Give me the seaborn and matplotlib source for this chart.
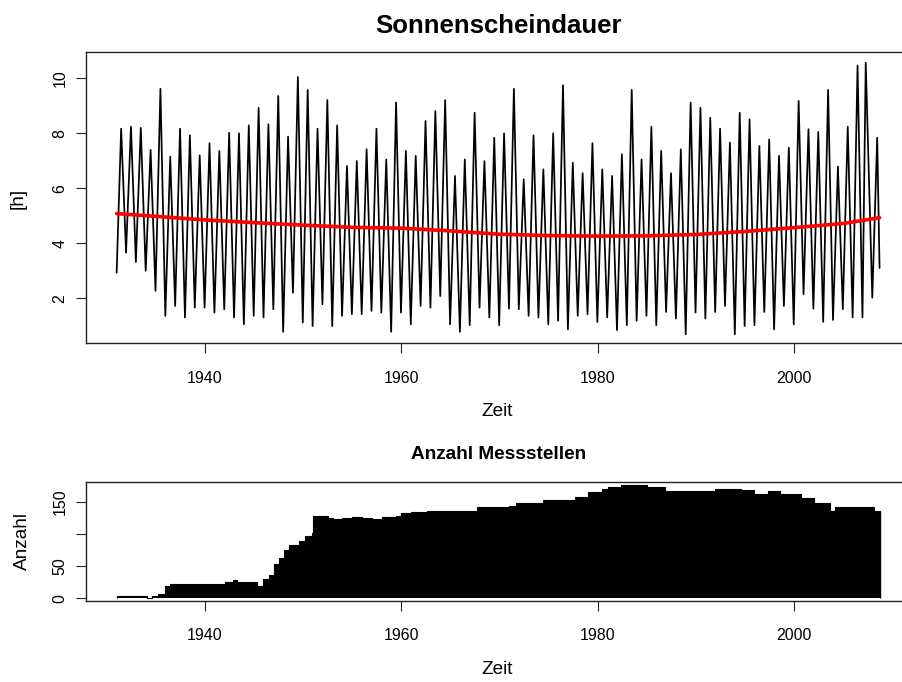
import numpy as np
import pandas as pd
import matplotlib
matplotlib.use("Agg")
import matplotlib.pyplot as plt
import seaborn as sns

# ---------------- data ----------------
years = list(range(1931, 2009))

# monthly sunshine: summer maximum of each year [h]
summer_peak = [
    8.17, 8.24, 8.20, 7.40, 9.62, 7.15, 8.17, 7.93, 7.20, 7.64,
    7.36, 8.02, 8.00, 8.29, 8.93, 8.33, 9.36, 7.88, 10.05, 9.58,
    8.17, 9.21, 8.29, 6.81, 6.99, 7.42, 8.17, 7.05, 9.12, 7.36,
    7.18, 8.45, 8.81, 9.21, 6.45, 7.05, 8.75, 6.99, 7.84, 8.00,
    9.62, 6.33, 7.93, 6.69, 8.00, 9.75, 6.93, 6.55, 7.64, 6.69,
    6.45, 7.24, 9.58, 7.05, 8.24, 7.36, 6.55, 7.42, 9.12, 8.93,
    8.57, 8.17, 7.66, 8.75, 8.51, 7.54, 7.78, 7.18, 7.48, 9.18,
    8.15, 8.05, 9.58, 6.79, 8.24, 10.47, 10.57, 7.84,
]
# month of the summer maximum
peak_month = [4 if y == 2007 else 6 for y in years]

# December minimum of each year 1931..2007 [h]
winter_trough = [
    3.66, 3.32, 3.00, 2.27, 1.36, 1.72, 1.30, 1.66, 1.66, 1.48,
    1.60, 1.30, 1.05, 1.36, 1.30, 1.60, 0.78, 2.20, 1.12, 0.99,
    1.78, 0.99, 1.36, 1.42, 1.42, 1.54, 1.48, 0.78, 1.48, 1.05,
    1.72, 1.66, 2.08, 1.05, 0.78, 1.02, 1.66, 1.30, 1.02, 1.62,
    1.60, 1.36, 1.30, 1.05, 1.18, 0.87, 1.36, 1.42, 1.14, 1.30,
    0.84, 1.02, 1.18, 1.36, 1.02, 1.50, 1.26, 0.69, 1.48, 1.26,
    1.50, 1.72, 0.69, 0.99, 1.02, 1.50, 0.87, 1.72, 1.05, 2.15,
    1.62, 1.14, 1.21, 1.60, 1.30, 1.30, 2.02,
]
first_value = 2.93   # January 1931
last_time = 2008.70
last_value = 3.10

# smooth trend (red)
trend_time = [1931.0, 1935, 1940, 1945, 1950, 1955, 1960, 1965, 1970,
              1975, 1980, 1985, 1990, 1995, 2000, 2005, 2008.7]
trend_value = [5.08, 4.98, 4.85, 4.75, 4.66, 4.58, 4.55, 4.45, 4.33,
               4.28, 4.26, 4.27, 4.32, 4.43, 4.57, 4.72, 4.93]

# number of stations (step changes)
station_time = [
    1931.0, 1934.05, 1934.6, 1935.25, 1935.9, 1936.4, 1942.0, 1942.9, 1943.3,
    1945.3, 1945.9, 1946.5, 1947.0, 1947.5, 1948.0, 1948.6, 1949.6, 1950.2,
    1950.9, 1951.0, 1951.7, 1952.5, 1953.0, 1954.0, 1955.0, 1956.0, 1957.0,
    1958.0, 1959.5, 1960.0, 1961.0, 1962.6, 1965.0, 1967.7, 1971.0, 1971.7,
    1974.4, 1977.7, 1979.0, 1980.4, 1981.0, 1982.4, 1985.0, 1986.8, 1990.5,
    1991.9, 1994.6, 1995.9, 1997.3, 1998.6, 2000.7, 2002.0, 2003.7, 2004.2,
    2008.1, 2008.75,
]
station_count = [
    4, 1, 4, 7, 19, 22, 25, 29, 26,
    19, 30, 36, 53, 62, 75, 82, 89, 97,
    101, 127, 128, 125, 123, 124, 126, 125, 123,
    126, 127, 132, 133, 136, 136, 141, 143, 148,
    153, 157, 165, 170, 173, 175, 172, 166, 167,
    170, 168, 162, 166, 162, 155, 148, 136, 142,
    135, 135,
]

top_yticks = [2, 4, 6, 8, 10]
bottom_yticks = [0, 50, 100, 150]
bottom_ylabels = ["0", "50", "", "150"]
x_ticks = [1940, 1960, 1980, 2000]

# ---------------- build series ----------------
t, v = [1931.0], [first_value]
for i, y in enumerate(years):
    t.append(y + (peak_month[i] - 0.5) / 12.0)
    v.append(summer_peak[i])
    if i < len(winter_trough):
        t.append(y + 11.5 / 12.0)
        v.append(winter_trough[i])
t.append(last_time)
v.append(last_value)
sun = pd.DataFrame({"Zeit": t, "h": v})
trend = pd.DataFrame({"Zeit": trend_time, "h": trend_value})
stations = pd.DataFrame({"Zeit": station_time, "Anzahl": station_count})

# ---------------- style ----------------
sns.set_style("white")
plt.rcParams["font.family"] = ["Liberation Sans", "DejaVu Sans"]
plt.rcParams["text.color"] = "black"
plt.rcParams["axes.labelcolor"] = "black"
plt.rcParams["axes.edgecolor"] = "#222222"
plt.rcParams["axes.linewidth"] = 1.0

W, H = 902, 682
fig = plt.figure(figsize=(W / 100, H / 100), dpi=100)

def pos(left, top, right, bottom):
    return [left / W, 1 - bottom / H, (right - left) / W, (bottom - top) / H]

ax1 = fig.add_axes(pos(86.2, 52.3, 910.0, 343.3))
ax2 = fig.add_axes(pos(86.2, 482.3, 910.0, 600.7))

# top panel
sns.lineplot(data=sun, x="Zeit", y="h", ax=ax1, color="black", lw=1.25,
             estimator=None, sort=False)
sns.lineplot(data=trend, x="Zeit", y="h", ax=ax1, color="#FF0000", lw=2.6,
             estimator=None)
ax1.set_xlim(1927.9, 2011.8)
ax1.set_ylim(0.36, 10.95)
ax1.set_yticks(top_yticks)
ax1.set_xticks(x_ticks)

# bottom panel
ax2.fill_between(stations["Zeit"], stations["Anzahl"], step="post",
                 color="black", lw=0)
sns.lineplot(data=stations, x="Zeit", y="Anzahl", ax=ax2, color="black",
             lw=0.8, drawstyle="steps-post", estimator=None)
ax2.vlines([station_time[0], station_time[-1]], 0,
           [station_count[0], station_count[-1]], color="black", lw=1.0)
ax2.set_xlim(1927.9, 2011.8)
ax2.set_ylim(-3.7, 179.8)
ax2.set_yticks(bottom_yticks)
ax2.set_yticklabels(bottom_ylabels)
ax2.set_xticks(x_ticks)

for ax in (ax1, ax2):
    for s in ax.spines.values():
        s.set_visible(True)
        s.set_color("#222222")
        s.set_linewidth(1.0)
    ax.tick_params(axis="both", which="major", length=7.5, width=0.8,
                   color="#222222", labelsize=11.5, labelcolor="black",
                   direction="out", bottom=True, left=True)
    ax.tick_params(axis="x", pad=12.2)
    ax.tick_params(axis="y", pad=5.8, labelrotation=90)
    for lab in ax.get_yticklabels():
        lab.set_verticalalignment("center")

ax1.set_xlabel("Zeit", fontsize=13.7)
ax1.set_ylabel("[h]", fontsize=13.7)
ax2.set_xlabel("Zeit", fontsize=13.7)
ax2.set_ylabel("Anzahl", fontsize=13.7)

ax1.xaxis.set_label_coords(0.4992, -0.236)
ax1.xaxis.label.set_verticalalignment("center")
ax1.yaxis.set_label_coords(-0.083, 0.4993)
ax1.yaxis.label.set_verticalalignment("center")
ax2.xaxis.set_label_coords(0.4992, -0.585)
ax2.xaxis.label.set_verticalalignment("center")
ax2.yaxis.set_label_coords(-0.0777, 0.50)
ax2.yaxis.label.set_verticalalignment("center")

ax1.set_title("Sonnenscheindauer", fontsize=18.5, fontweight="bold",
              y=1.0904, pad=0, va="center", color="black")
ax2.set_title("Anzahl Messstellen", fontsize=13.7, fontweight="bold",
              y=1.2306, pad=0, va="center", color="black")

fig.savefig("out.png", dpi=100)
